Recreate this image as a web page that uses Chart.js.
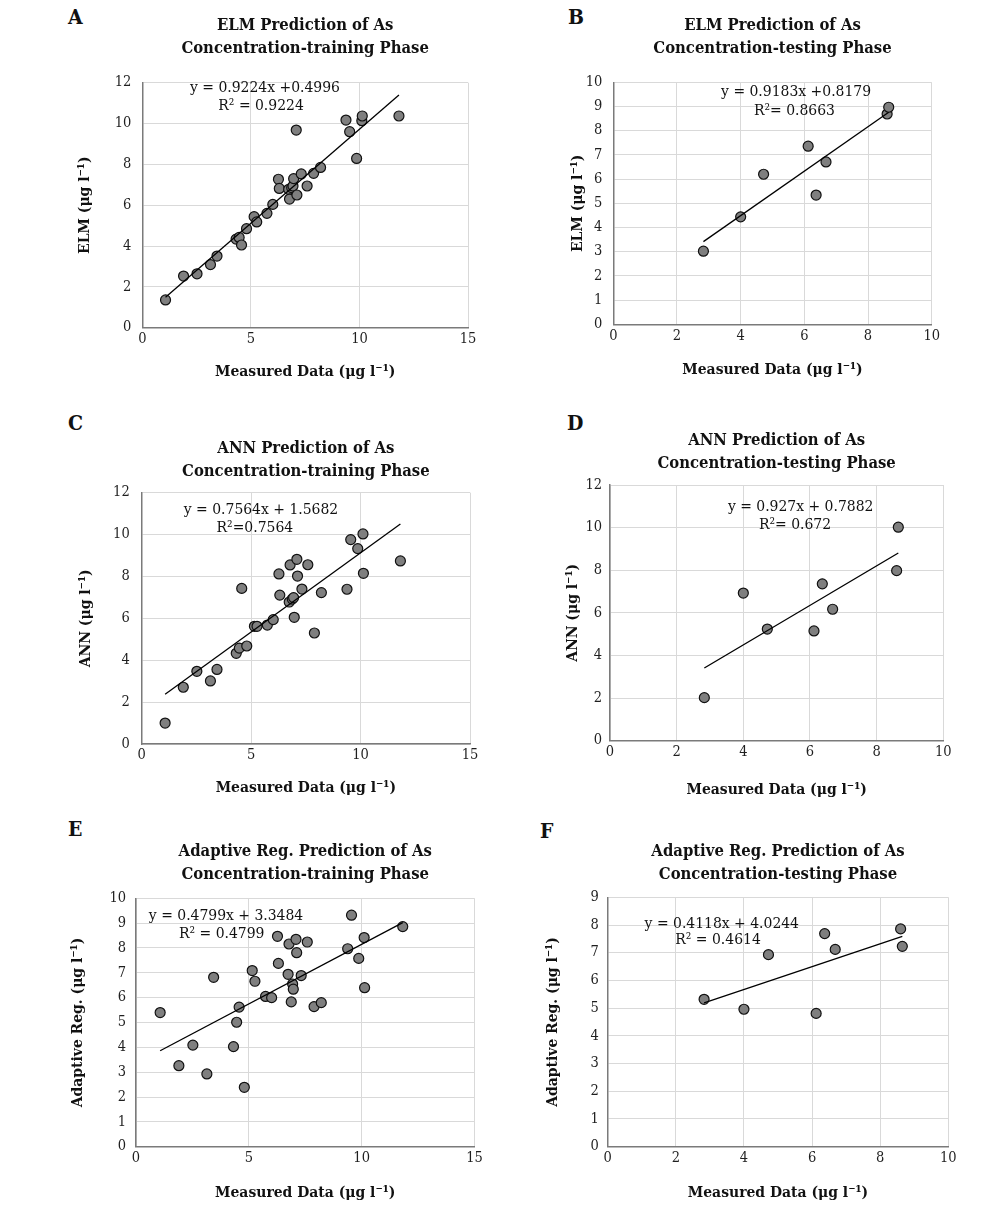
<!DOCTYPE html>
<html>
<head>
<meta charset="utf-8">
<script src="https://cdn.jsdelivr.net/npm/chart.js@4.4.1/dist/chart.umd.min.js"></script>
<style>
  body { margin: 0; background: #fff; }
  #page { position: relative; width: 1000px; height: 1205px; overflow: hidden; }
  #page canvas { position: absolute; }
  .letter {
    position: absolute;
    font: bold 21px/21px "DejaVu Serif Condensed", "DejaVu Serif", serif;
    color: #111;
  }
</style>
</head>
<body>
<div id="page"></div>
<script>
const FONT = '"DejaVu Serif Condensed", "DejaVu Serif", serif';

// measured arsenic, training set (shared by A, C, E)
const measuredTrain = [1.07, 1.90, 2.52, 3.14, 3.44, 4.32, 4.46, 4.57, 4.80, 5.15, 5.27, 5.74, 6.01, 6.27, 6.31, 6.74,
                       6.78, 6.88, 6.94, 6.97, 7.09, 7.12, 7.32, 7.59, 7.89, 8.21, 9.38, 9.55, 9.87, 10.11, 10.13, 11.82];
const elmTrain = [1.36, 2.53, 2.64, 3.09, 3.51, 4.34, 4.42, 4.05, 4.85, 5.44, 5.18, 5.60, 6.04, 7.27, 6.82, 6.78,
                  6.30, 6.86, 6.94, 7.30, 9.68, 6.50, 7.53, 6.94, 7.56, 7.85, 10.17, 9.60, 8.29, 10.14, 10.37, 10.37];
const annTrain = [1.00, 2.71, 3.47, 3.01, 3.56, 4.33, 4.58, 7.43, 4.68, 5.62, 5.62, 5.68, 5.94, 8.12, 7.11, 6.78,
                  8.55, 6.92, 6.99, 6.05, 8.82, 8.02, 7.40, 8.56, 5.30, 7.23, 7.39, 9.76, 9.33, 10.03, 8.15, 8.74];
const adaptTrain = [5.40, 3.26, 4.09, 2.93, 6.82, 4.03, 5.01, 5.62, 2.39, 7.09, 6.66, 6.05, 6.00, 8.47, 7.38, 6.94,
                    8.16, 5.83, 6.55, 6.34, 8.35, 7.81, 6.89, 8.24, 5.64, 5.80, 7.97, 9.32, 7.58, 8.42, 6.40, 8.86];

// testing set (B, D, F)
const measuredTest = [2.83, 4.00, 4.72, 6.12, 6.37, 6.68, 8.60, 8.65];
const elmTest = [3.02, 4.44, 6.20, 7.36, 5.34, 6.71, 8.69, 8.97];
const annTest = [2.02, 6.93, 5.24, 5.15, 7.36, 6.17, 7.98, 10.02];
const adaptTest = [5.32, 4.96, 6.93, 4.81, 7.69, 7.12, 7.86, 7.23];

// linear fits [slope, intercept]
const elmTrainFit = [0.9224, 0.4996];
const elmTestFit = [0.9183, 0.8179];
const annTrainFit = [0.7564, 1.5682];
const annTestFit = [0.927, 0.7882];
const adaptTrainFit = [0.4799, 3.3484];
const adaptTestFit = [0.4118, 4.0244];

// tick labels
const trainXTicks = [0, 5, 10, 15];
const testXTicks = [0, 2, 4, 6, 8, 10];
const yTicks12 = [0, 2, 4, 6, 8, 10, 12];
const yTicks10 = [0, 1, 2, 3, 4, 5, 6, 7, 8, 9, 10];
const yTicks9 = [0, 1, 2, 3, 4, 5, 6, 7, 8, 9];

const UNIT = ' (μg l⁻¹)';
const TITLE_SIZE = 16.5, TITLE_LH = 1.4;
const AXIS_SIZE = 15.5, AXIS_LH = 1.2;
const TICK_SIZE = 14.5;

const panels = [
  { letter: 'A', letterAt: [68, 6], model: 'ELM', phase: 'training', xs: measuredTrain, ys: elmTrain, fit: elmTrainFit,
    xTicks: trainXTicks, yTicks: yTicks12, yName: 'ELM',
    eq: [['y = 0.9224x +0.4996', 5.65, 11.74], ['R² = 0.9224', 5.47, 10.88]],
    area: [142.3, 82.7, 468, 327.7], titleY: 25.5, yTitleX: 85, xTitleY: 372, tickPad: 11 },
  { letter: 'B', letterAt: [568, 6], model: 'ELM', phase: 'testing', xs: measuredTest, ys: elmTest, fit: elmTestFit,
    xTicks: testXTicks, yTicks: yTicks10, yName: 'ELM',
    eq: [['y = 0.9183x +0.8179', 5.74, 9.59], ['R²= 0.8663', 5.69, 8.83]],
    area: [613.3, 82.3, 931.7, 324.3], titleY: 25.5, yTitleX: 578, xTitleY: 370, tickPad: 11 },
  { letter: 'C', letterAt: [68, 412], model: 'ANN', phase: 'training', xs: measuredTrain, ys: annTrain, fit: annTrainFit,
    xTicks: trainXTicks, yTicks: yTicks12, yName: 'ANN',
    eq: [['y = 0.7564x + 1.5682', 5.45, 11.17], ['R²=0.7564', 5.17, 10.30]],
    area: [141.7, 492.7, 470, 744], titleY: 449, yTitleX: 86, xTitleY: 788, tickPad: 12 },
  { letter: 'D', letterAt: [567, 412], model: 'ANN', phase: 'testing', xs: measuredTest, ys: annTest, fit: annTestFit,
    xTicks: testXTicks, yTicks: yTicks12, yName: 'ANN',
    eq: [['y = 0.927x + 0.7882', 5.72, 10.99], ['R²= 0.672', 5.55, 10.13]],
    area: [610, 485, 943.3, 740.7], titleY: 441, yTitleX: 573, xTitleY: 790, tickPad: 8 },
  { letter: 'E', letterAt: [68, 818], model: 'Adaptive Reg.', phase: 'training', xs: measuredTrain, ys: adaptTrain, fit: adaptTrainFit,
    xTicks: trainXTicks, yTicks: yTicks10, yName: 'Adaptive Reg.',
    eq: [['y = 0.4799x + 3.3484', 3.99, 9.30], ['R² = 0.4799', 3.80, 8.56]],
    area: [136, 898.3, 474.5, 1146.7], titleY: 852, yTitleX: 78, xTitleY: 1193, tickPad: 10 },
  { letter: 'F', letterAt: [540, 820], model: 'Adaptive Reg.', phase: 'testing', xs: measuredTest, ys: adaptTest, fit: adaptTestFit,
    xTicks: testXTicks, yTicks: yTicks9, yName: 'Adaptive Reg.',
    eq: [['y = 0.4118x + 4.0244', 3.35, 8.04], ['R² = 0.4614', 3.24, 7.46]],
    area: [607.7, 897.3, 948.3, 1146.7], titleY: 852, yTitleX: 553, xTitleY: 1193, tickPad: 9 },
];

// writes the regression equation inside the plot
const equationText = {
  id: 'equationText',
  afterDatasetsDraw(chart, args, opts) {
    const { ctx, scales } = chart;
    ctx.save();
    ctx.font = 'normal ' + AXIS_SIZE + 'px ' + FONT;
    ctx.fillStyle = '#111';
    ctx.textAlign = 'center';
    ctx.textBaseline = 'middle';
    for (const [text, x, y] of opts.lines) {
      ctx.fillText(text, scales.x.getPixelForValue(x), scales.y.getPixelForValue(y));
    }
    ctx.restore();
  }
};

function axis(ticks, pad) {
  return {
    min: ticks[0],
    max: ticks[ticks.length - 1],
    grid: { color: '#d9d9d9', lineWidth: 1, drawTicks: false },
    border: { color: '#7a7a7a', width: 1.5 },
    ticks: { stepSize: ticks[1] - ticks[0], padding: pad, color: '#1f1f1f', font: { family: FONT, size: TICK_SIZE } }
  };
}

const page = document.getElementById('page');

for (const p of panels) {
  const lhT = TITLE_SIZE * TITLE_LH, lhA = AXIS_SIZE * AXIS_LH;
  const [aL, aT, aR, aB] = p.area;
  const cl = Math.floor(p.yTitleX - lhA / 2 - 6);
  const ct = Math.floor(p.titleY - lhT / 2 - 6);
  const cr = Math.ceil(aR + 14);
  const cb = Math.ceil(p.xTitleY + lhA / 2 + 6);

  const letter = document.createElement('div');
  letter.className = 'letter';
  letter.textContent = p.letter;
  letter.style.left = p.letterAt[0] + 'px';
  letter.style.top = p.letterAt[1] + 'px';
  page.appendChild(letter);

  const canvas = document.createElement('canvas');
  canvas.width = cr - cl;
  canvas.height = cb - ct;
  canvas.style.left = cl + 'px';
  canvas.style.top = ct + 'px';
  page.appendChild(canvas);

  const titlePadTop = p.titleY - lhT / 2 - ct;
  const xMin = Math.min(...p.xs), xMax = Math.max(...p.xs);
  const [slope, icpt] = p.fit;

  const xScale = axis(p.xTicks, 3);
  xScale.type = 'linear';
  xScale.position = 'bottom';
  xScale.title = { display: true, text: 'Measured Data' + UNIT, color: '#111',
                   font: { family: FONT, size: AXIS_SIZE, weight: 'bold', lineHeight: AXIS_LH },
                   padding: { top: 0, bottom: cb - p.xTitleY - lhA / 2 } };
  xScale.afterFit = (s) => { s.height = cb - aB; };

  const yScale = axis(p.yTicks, p.tickPad);
  yScale.title = { display: true, text: p.yName + UNIT, color: '#111',
                   font: { family: FONT, size: AXIS_SIZE, weight: 'bold', lineHeight: AXIS_LH },
                   padding: { top: p.yTitleX - lhA / 2 - cl, bottom: 0 } };
  yScale.afterFit = (s) => { s.width = aL - cl; };

  new Chart(canvas, {
    type: 'scatter',
    data: {
      datasets: [
        {
          label: p.model,
          data: p.xs.map((x, i) => ({ x: x, y: p.ys[i] })),
          backgroundColor: '#7f7f7f',
          borderColor: '#111',
          borderWidth: 1.2,
          pointRadius: 5,
          order: 1
        },
        {
          label: 'Linear fit',
          data: [{ x: xMin, y: slope * xMin + icpt }, { x: xMax, y: slope * xMax + icpt }],
          showLine: true,
          borderColor: '#000',
          borderWidth: 1.3,
          pointRadius: 0,
          order: 0
        }
      ]
    },
    options: {
      responsive: false,
      animation: false,
      layout: { padding: { left: 0, top: 0, bottom: 0, right: cr - aR } },
      scales: { x: xScale, y: yScale },
      plugins: {
        legend: { display: false },
        tooltip: { enabled: false },
        title: {
          display: true,
          fullSize: false,
          text: [p.model + ' Prediction of As', 'Concentration-' + p.phase + ' Phase'],
          color: '#111',
          font: { family: FONT, size: TITLE_SIZE, weight: 'bold', lineHeight: TITLE_LH },
          padding: { top: titlePadTop, bottom: aT - ct - titlePadTop - 2 * lhT }
        },
        equationText: { lines: p.eq }
      }
    },
    plugins: [equationText]
  });
}
</script>
</body>
</html>
